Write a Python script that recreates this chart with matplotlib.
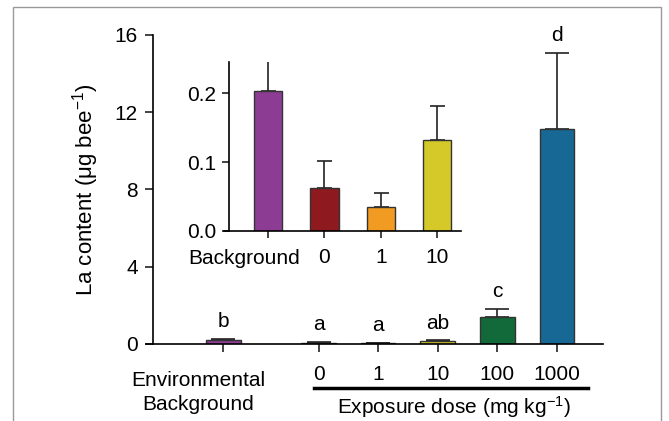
import numpy as np
import matplotlib
matplotlib.use('Agg')
import matplotlib.pyplot as plt
from matplotlib.patches import Rectangle

plt.rcParams['font.family'] = ['Liberation Sans', 'DejaVu Sans']
plt.rcParams['mathtext.fontset'] = 'custom'
plt.rcParams['mathtext.rm'] = 'Liberation Sans'
plt.rcParams['mathtext.it'] = 'Liberation Sans'

# main chart data
groups = ['Background', '0', '1', '10', '100', '1000']
means = [0.20, 0.06, 0.035, 0.13, 1.40, 11.13]
errs = [0.05, 0.04, 0.02, 0.05, 0.41, 3.94]
letters = ['b', 'a', 'a', 'ab', 'c', 'd']
colors = ['#8c3d93', '#8e1a1f', '#f19b22', '#d5c92a', '#126a3a', '#186896']

# inset data
inset_labels = ['Background', '0', '1', '10']
inset_means = [0.203, 0.062, 0.035, 0.132]
inset_errs = [0.047, 0.040, 0.020, 0.049]

xpos = np.array([0, 1.6, 2.6, 3.6, 4.6, 5.6])
fs = 15

fig = plt.figure(figsize=(6.69, 4.21), dpi=100)
fig.patches.append(Rectangle((13 / 669, -0.1), 648 / 669, 1.1 - 7 / 421,
                             transform=fig.transFigure, fill=False,
                             edgecolor='#9a9a9a', linewidth=1.0))

ax = fig.add_axes([0.218, 0.183, 0.683, 0.734])
ax.bar(xpos, means, width=0.58, color=colors, edgecolor='#333333', linewidth=1.0, zorder=2)
ax.errorbar(xpos, means, yerr=[np.zeros(len(errs)), errs], fmt='none',
            ecolor='#222222', elinewidth=1.2, capsize=8.6, capthick=1.2, zorder=1)
for x, m, e, l in zip(xpos, means, errs, letters):
    ax.text(x, m + e + 0.4, l, ha='center', va='bottom', fontsize=fs, clip_on=False)

ax.set_xlim(-1.3, 6.37)
ax.set_ylim(0, 16)
ax.set_yticks([0, 4, 8, 12, 16])
ax.spines['top'].set_visible(False)
ax.spines['right'].set_visible(False)
ax.spines['left'].set_position(('data', -1.18))
ax.spines['left'].set_linewidth(1.2)
ax.spines['bottom'].set_linewidth(1.2)
ax.set_xticks(xpos)
ax.set_xticklabels([''] + groups[1:])
ax.tick_params(axis='both', labelsize=fs, width=1.2, length=6, color='#222222')
ax.tick_params(axis='x', pad=9)
ax.tick_params(axis='y', pad=5)
ax.set_ylabel('La content (μg bee$^{-1}$)', fontsize=16, labelpad=10)

trans = ax.get_xaxis_transform()
ax.text(-0.42, -0.117, 'Environmental', transform=trans, ha='center', va='center', fontsize=fs)
ax.text(-0.42, -0.197, 'Background', transform=trans, ha='center', va='center', fontsize=fs)
ax.plot([1.52, 6.13], [-0.142, -0.142], transform=trans, color='black',
        linewidth=2.5, clip_on=False)
ax.text(3.87, -0.204, 'Exposure dose (mg kg$^{-1}$)', transform=trans,
        ha='center', va='center', fontsize=fs)

# inset
ix = np.arange(len(inset_labels))
axi = fig.add_axes([224 / 669, (421 - 231) / 421, 237 / 669, 169 / 421])
axi.bar(ix, inset_means, width=0.5, color=colors[:4], edgecolor='#333333', linewidth=1.0, zorder=2)
axi.errorbar(ix, inset_means, yerr=[np.zeros(len(inset_errs)), inset_errs], fmt='none',
             ecolor='#222222', elinewidth=1.2, capsize=5.4, capthick=1.2, zorder=1)
axi.set_xlim(-0.78, 3.42)
axi.set_ylim(0, 0.245)
axi.set_yticks([0.0, 0.1, 0.2])
axi.set_yticklabels(['0.0', '0.1', '0.2'])
axi.patch.set_alpha(0)
axi.spines['top'].set_visible(False)
axi.spines['right'].set_visible(False)
axi.spines['left'].set_position(('data', -0.69))
axi.spines['left'].set_linewidth(1.2)
axi.spines['bottom'].set_linewidth(1.2)
axi.set_xticks(ix)
axi.set_xticklabels([''] + inset_labels[1:])
axi.tick_params(axis='both', labelsize=fs, width=1.2, length=5, color='#222222')
axi.tick_params(axis='x', pad=7)
axi.tick_params(axis='y', pad=4)
axi.text(-0.42, -0.16, inset_labels[0], transform=axi.get_xaxis_transform(),
         ha='center', va='center', fontsize=fs)

fig.savefig('out.png', dpi=100)
